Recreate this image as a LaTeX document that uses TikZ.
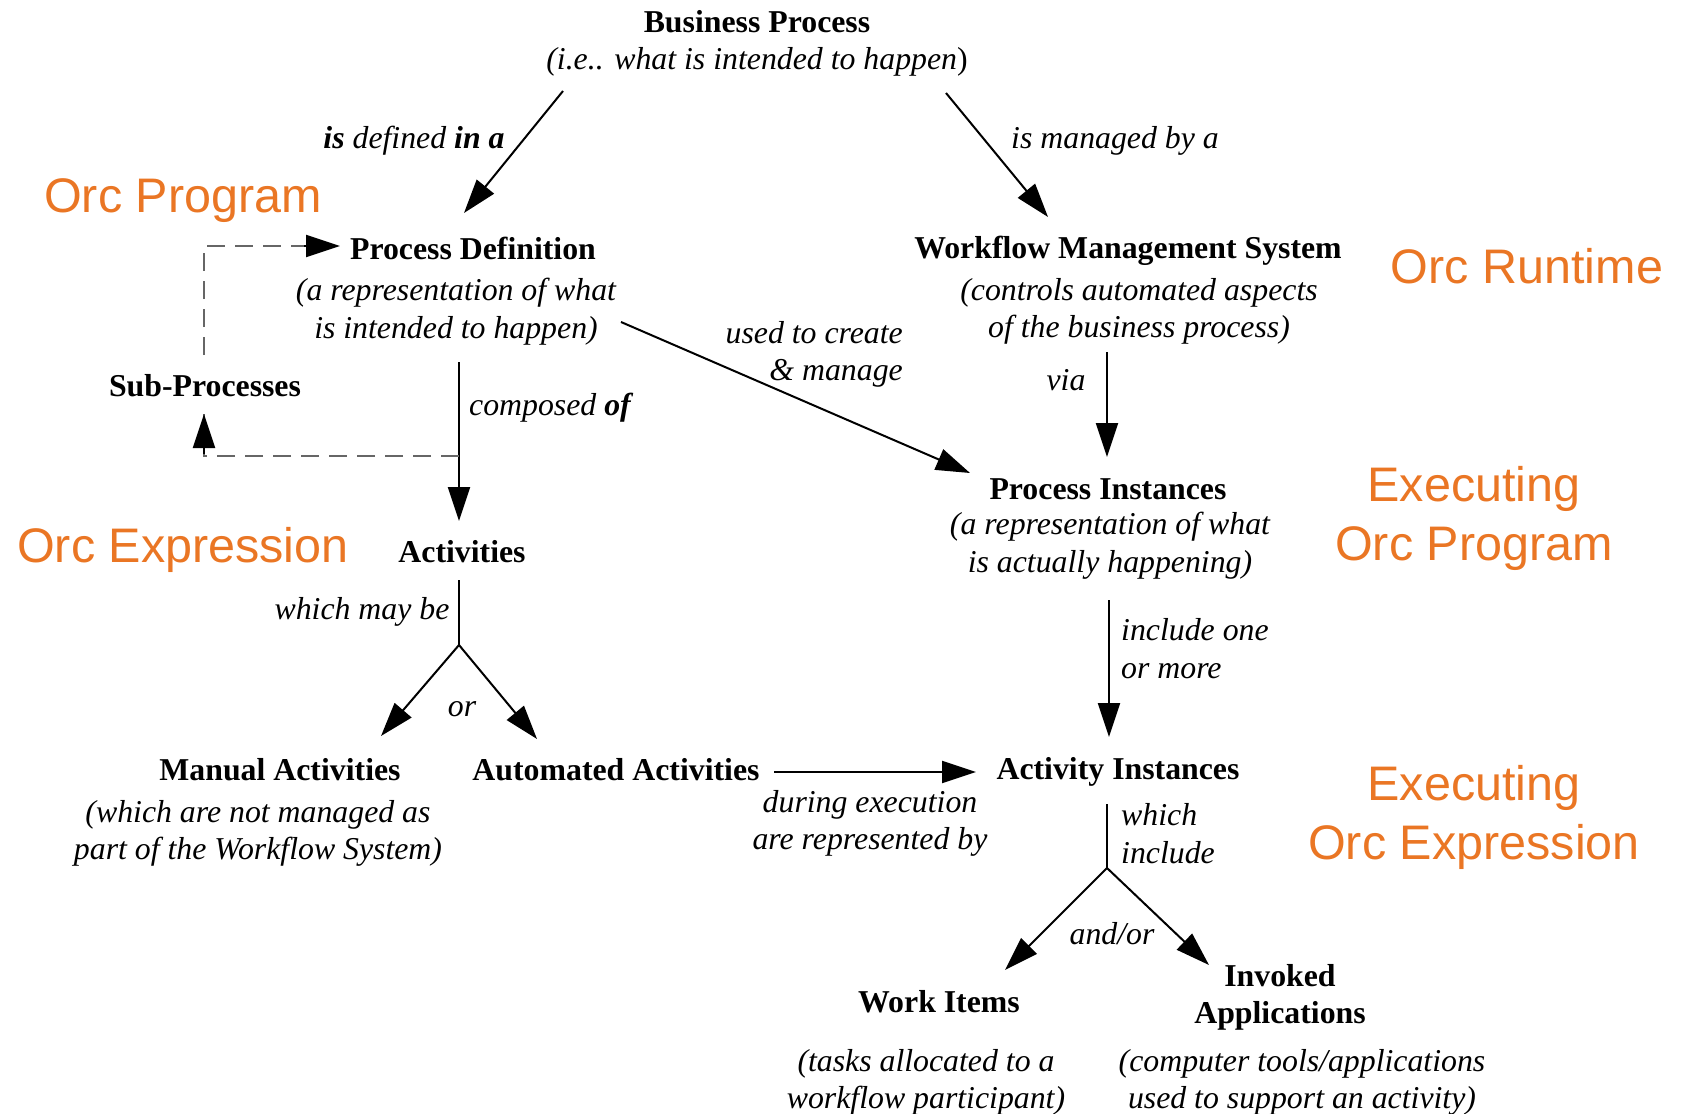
\documentclass[tikz,border=0pt]{standalone}
\usepackage{fontspec}
\setmainfont{Liberation Serif}
\setsansfont{Liberation Sans}
\usetikzlibrary{arrows.meta}
\definecolor{orcorange}{RGB}{234,118,36}

\begin{document}
\begin{tikzpicture}[x=1pt,y=-1pt]

\tikzset{lbl/.style={font=\fontsize{31.8}{37.5}\selectfont, inner sep=0pt, yshift=-2.5pt},
  head/.style={lbl, font=\fontsize{31.8}{37.5}\selectfont\bfseries, align=center},
  note/.style={lbl, font=\fontsize{31.8}{37.5}\selectfont\itshape, align=center},
  orc/.style={font=\fontsize{48.5}{59}\selectfont\sffamily, text=orcorange,
    align=center, inner sep=0pt, yshift=-3.5pt},
  link/.style={draw, line width=2pt, -{Triangle[length=34pt,width=22pt]}},
  plain/.style={draw, line width=2pt},
  dashlink/.style={draw, black!60, line width=1.1pt, dash pattern=on 18pt off 10pt}
}
\useasboundingbox (0,0) rectangle (1685,1113);

% boxes of text
\node[head] (bp) at (757,19) {Business Process};
\node[note] (bpnote) at (757,59) {(i.e.. what is intended to happen\textup{)}};
\node[head] (pd) at (473,246) {Process Definition};
\node[note] (pdnote) at (456,309) {(a representation of what\\is intended to happen)};
\node[head] (wms) at (1128,248) {Workflow Management System};
\node[note] (wmsnote) at (1139,309) {(controls automated aspects\\of the business process)};
\node[head] (sp) at (205,383) {Sub-Processes};
\node[head] (pi) at (1108,487) {Process Instances};
\node[note] (pinote) at (1110,543) {(a representation of what\\is actually happening)};
\node[head] (act) at (462,549) {Activities};
\node[head] (man) at (280,767) {Manual Activities};
\node[note] (mannote) at (258,831) {(which are not managed as\\part of the Workflow System)};
\node[head] (auto) at (616,767) {Automated Activities};
\node[head] (ai) at (1118,769) {Activity Instances};
\node[head] (wi) at (939,999) {Work Items};
\node[note] (winote) at (926,1080) {(tasks allocated to a\\workflow participant)};
\node[head] (inv) at (1280,995) {Invoked\\Applications};
\node[note] (invnote) at (1302,1080) {(computer tools/applications\\used to support an activity)};

% orc mapping
\node[orc] (orcprog) at (183,197) {Orc Program};
\node[orc] (orcrun) at (1527,263) {Orc Runtime};
\node[orc] (orcexpr) at (183,546) {Orc Expression};
\node[orc] (execprog) at (1474,515) {Executing\\Orc Program};
\node[orc] (execexpr) at (1474,814) {Executing\\Orc Expression};

% connector ends
\coordinate (bpL) at (563,91);
\coordinate (pdIn) at (464,213);
\coordinate (bpR) at (946,93);
\coordinate (wmsIn) at (1048,217);
\coordinate (pdOut) at (621,322);
\coordinate (piIn) at (970,473);
\coordinate (wmsOut) at (1107,352);
\coordinate (piTop) at (1107,457);
\coordinate (pdDown) at (459,362);
\coordinate (actTop) at (459,521);
\coordinate (actDown) at (459,580);
\coordinate (fork) at (459,645);
\coordinate (manIn) at (381,736);
\coordinate (autoIn) at (537,739);
\coordinate (autoOut) at (774,772);
\coordinate (aiIn) at (976,772);
\coordinate (piDown) at (1109,600);
\coordinate (aiTop) at (1109,737);
\coordinate (aiDown) at (1107,804);
\coordinate (fork2) at (1107,868);
\coordinate (wiIn) at (1005,970);
\coordinate (invIn) at (1209,965);
\coordinate (spUp) at (204,355);
\coordinate (pdLeft) at (340,246);
\coordinate (branch) at (459,456);
\coordinate (spDown) at (204,414);

\draw[link] (bpL) -- (pdIn);
\draw[link] (bpR) -- (wmsIn);
\draw[link] (pdOut) -- (piIn);
\draw[link] (wmsOut) -- (piTop);
\draw[link] (pdDown) -- (actTop);
\draw[plain] (actDown) -- (fork);
\draw[link] (fork) -- (manIn);
\draw[link] (fork) -- (autoIn);
\draw[link] (autoOut) -- (aiIn);
\draw[link] (piDown) -- (aiTop);
\draw[plain] (aiDown) -- (fork2);
\draw[link] (fork2) -- (wiIn);
\draw[link] (fork2) -- (invIn);
\draw[dashlink] (spUp) |- (pdLeft);
\draw[link] (pdLeft) ++(-36,0) -- (pdLeft);
\draw[dashlink] (branch) -| (spDown);
\draw[link] (spDown) ++(0,40) -- (spDown);

% connector labels
\node[note] (l1) at (414,138) {\textbf{is} defined \textbf{in a}};
\node[note] (l2) at (1115,138) {is managed by a};
\node[note, anchor=east, align=right] (l3) at (903,352) {used to create\\\& manage};
\node[note] (l4) at (550,405) {composed \textbf{of}};
\node[note] (l5) at (1066,378) {via};
\node[note, anchor=west, align=left] (l6) at (1121,646) {include one\\or more};
\node[note] (l7) at (362,609) {which may be};
\node[note] (l8) at (462,707) {or};
\node[note] (l9) at (870,821) {during execution\\are represented by};
\node[note, anchor=west, align=left] (l10) at (1121,831) {which\\include};
\node[note] (l11) at (1112,931) {and/or};
\end{tikzpicture}
\end{document}
